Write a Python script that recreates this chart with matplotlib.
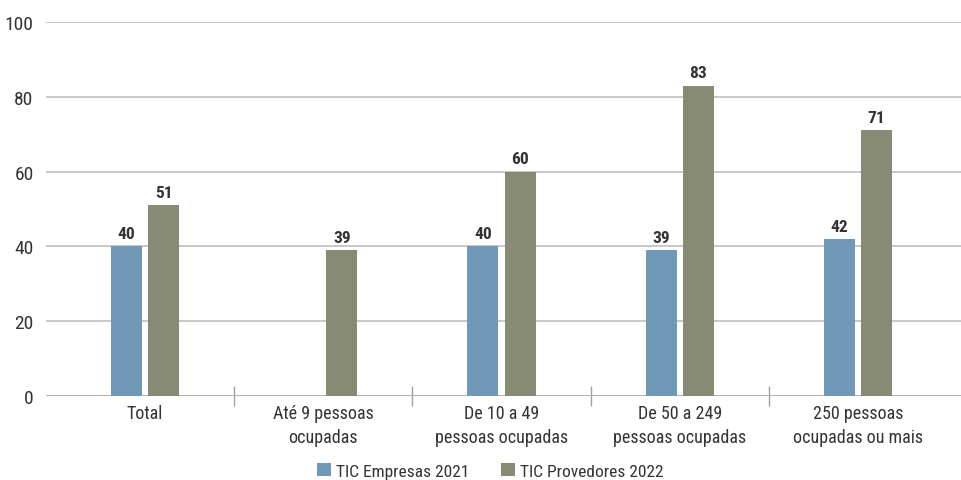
import numpy as np
import matplotlib.pyplot as plt
import logging

logging.getLogger('matplotlib.font_manager').setLevel(logging.ERROR)

# Condensed sans preferred, Roboto as fallback
plt.rcParams['font.family'] = ['Roboto Condensed', 'Liberation Sans Narrow', 'Roboto', 'DejaVu Sans']

# Data
categories = ['Total', 'Até 9 pessoas\nocupadas', 'De 10 a 49\npessoas ocupadas',
              'De 50 a 249\npessoas ocupadas', '250 pessoas\nocupadas ou mais']
empresas_2021 = [40, None, 40, 39, 42]
provedores_2022 = [51, 39, 60, 83, 71]
series_names = ['TIC Empresas 2021', 'TIC Provedores 2022']
colors = ['#6f97b6', '#878b74']
text_color = '#333333'
grid_color = '#c4c4c4'

fig = plt.figure(figsize=(9.62, 4.81), dpi=100)
ax = fig.add_axes([46 / 962, 1 - 397 / 481, 916 / 962, 374 / 481])

x = np.arange(len(categories))
width = 0.174
offset = 0.104

for vals, sign, color, name in zip([empresas_2021, provedores_2022], [-1, 1], colors, series_names):
    xs = [xi + sign * offset for xi, v in zip(x, vals) if v is not None]
    vs = [v for v in vals if v is not None]
    bars = ax.bar(xs, vs, width, color=color, label=name, zorder=3)
    for b, v in zip(bars, vs):
        ax.text(b.get_x() + b.get_width() / 2, v + 1.4, f'{v}', ha='center', va='bottom',
                fontsize=12.5, fontweight='bold', color=text_color)

ax.set_ylim(0, 100)
ax.set_yticks(np.arange(0, 101, 20))
ax.set_xlim(-0.556, 4.584)
ax.yaxis.grid(True, color=grid_color, linewidth=1.3, zorder=0)
ax.set_axisbelow(True)
for s in ['top', 'right', 'left', 'bottom']:
    ax.spines[s].set_visible(False)
ax.axhline(0, color='#b0b0b0', linewidth=1.3, zorder=2)

ax.tick_params(axis='y', length=0, pad=9, labelsize=14, labelcolor=text_color)

# separators between categories as x ticks, labels as minor ticks
ax.set_xticks(x[:-1] + 0.5)
ax.set_xticklabels([])
ax.tick_params(axis='x', which='major', direction='inout', length=14, color='#a0a0a0', width=1)
ax.set_xticks(x, minor=True)
ax.set_xticklabels(categories, minor=True, fontsize=13, color=text_color, linespacing=1.4)
ax.tick_params(axis='x', which='minor', length=0, pad=6)

ax.legend(loc='center', bbox_to_anchor=(0.485, -0.2), ncol=2, frameon=False,
          fontsize=12.5, handlelength=0.8, handleheight=0.8, handletextpad=0.3,
          columnspacing=1.8, labelcolor=text_color)

fig.savefig('out.png', dpi=100)
